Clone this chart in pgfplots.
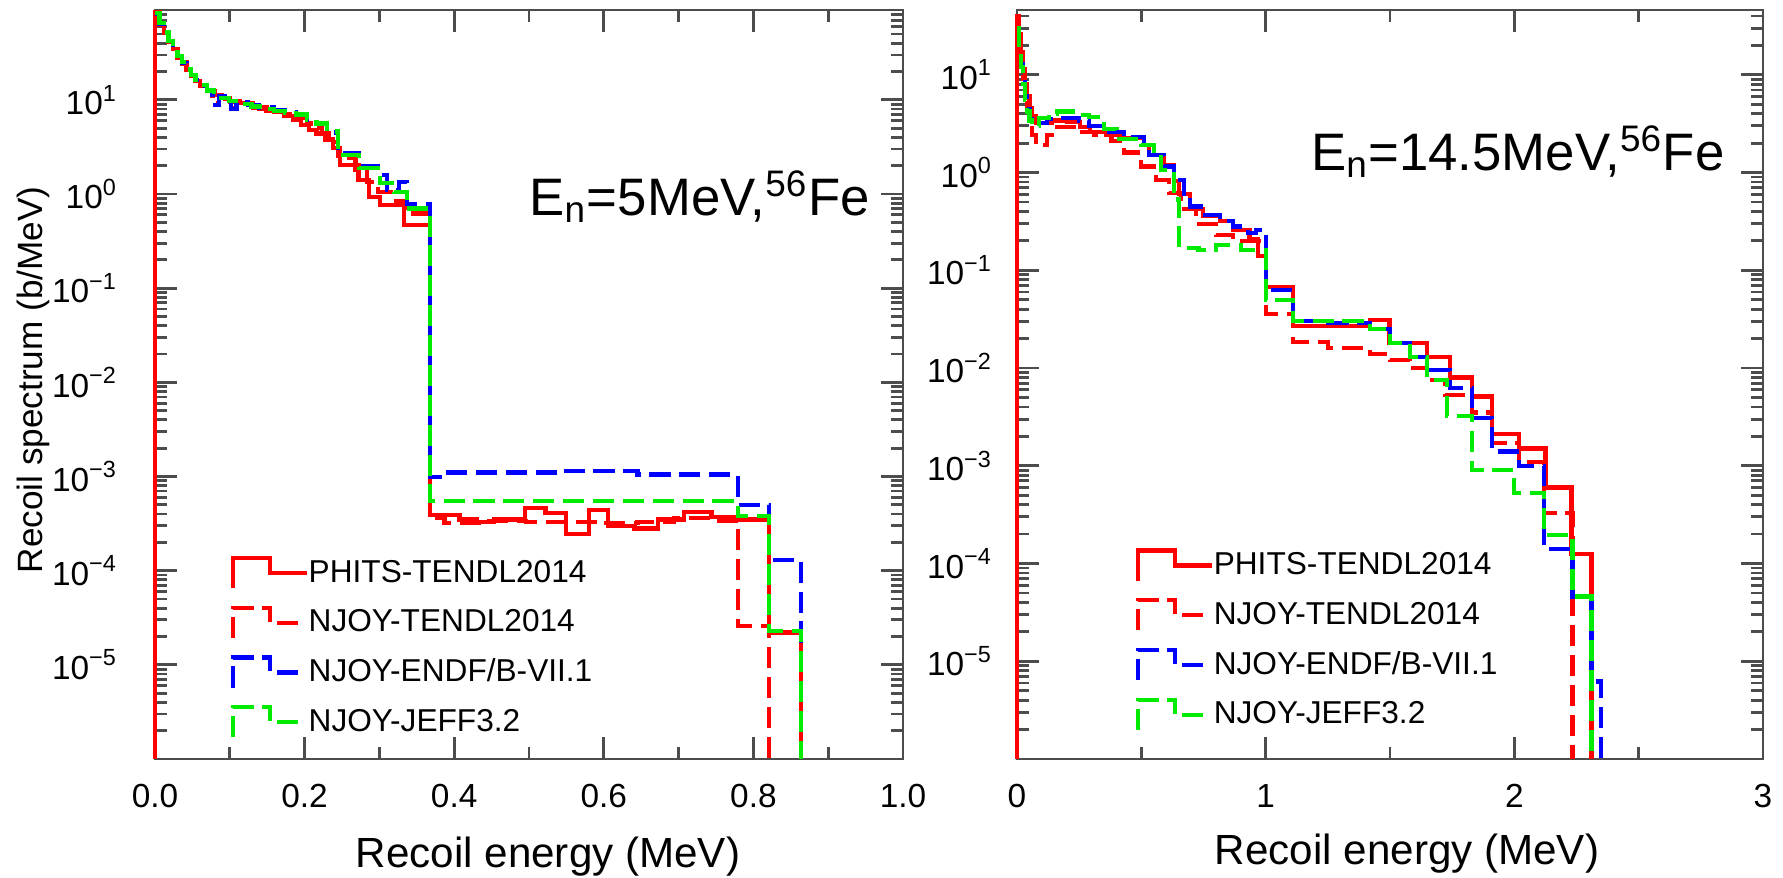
\documentclass[border=0pt]{standalone}
\usepackage{fontspec}
\setmainfont{Liberation Sans}
\usepackage{pgfplots}
\pgfplotsset{compat=1.18}

\definecolor{nred}{RGB}{255,0,0}
\definecolor{nblue}{RGB}{0,0,255}
\definecolor{ngreen}{RGB}{0,235,0}

\pgfplotsset{
  every axis/.append style={
    scale only axis, ymode=log, ymin=1e-6,
    clip=false, tick align=inside, tick pos=both,
    major tick length=0.22cm, minor tick length=0.12cm,
    every tick/.style={black!70, line width=0.8pt},
    axis line style={black!70, line width=0.8pt},
    ytick={1e-6,1e-5,1e-4,1e-3,1e-2,1e-1,1,10,100},
    minor ytick={2e-6,3e-6,4e-6,5e-6,6e-6,7e-6,8e-6,9e-6,
      2e-5,3e-5,4e-5,5e-5,6e-5,7e-5,8e-5,9e-5,
      2e-4,3e-4,4e-4,5e-4,6e-4,7e-4,8e-4,9e-4,
      2e-3,3e-3,4e-3,5e-3,6e-3,7e-3,8e-3,9e-3,
      2e-2,3e-2,4e-2,5e-2,6e-2,7e-2,8e-2,9e-2,
      0.2,0.3,0.4,0.5,0.6,0.7,0.8,0.9,
      2,3,4,5,6,7,8,9,20,30,40,50,60,70,80},
    yticklabel={\pgfmathtruncatemacro\ee{round(\tick/ln(10))}%
      \ifnum\ee<-5 \else\ifnum\ee>1 \else 10\textsuperscript{\ifnum\ee<0 −\number-\ee\else\ee\fi}\fi\fi},
    ticklabel style={font=\fontsize{9.5}{11}\selectfont},
    xticklabel style={yshift=-0.13cm},
    /pgf/number format/assume math mode=true,
    legend cell align=left,
    legend style={draw=none, fill=none, anchor=north west, inner sep=0pt,
      font=\fontsize{9}{11}\selectfont, row sep=0.155cm,
      nodes={inner sep=0pt, text height=0.24cm, text depth=0.06cm},
      /tikz/every even column/.append style={column sep=0.23cm}},
  },
  legend image code/.code={
    \draw[#1] (0cm,-0.15cm) -- (0cm,0.15cm) -- (0.37cm,0.15cm) -- (0.37cm,0cm) -- (0.74cm,0cm);
  },
}
\tikzset{
  phits/.style={nred, line width=1.2pt},
  njt/.style={nred, line width=1.2pt, dash pattern=on 6pt off 2.5pt},
  nje/.style={nblue, line width=1.2pt, dash pattern=on 6pt off 2.5pt},
  njj/.style={ngreen, line width=1.2pt, dash pattern=on 6pt off 2.5pt},
}

\begin{document}
\begin{tikzpicture}
\useasboundingbox (0,0) rectangle (17.83,8.78);

% left panel: En = 5 MeV
\begin{axis}[at={(1.55cm,1.19cm)}, anchor=south west, width=7.48cm, height=7.49cm,
  xmin=0, xmax=1, ymax=90,
  xtick={0,0.2,0.4,0.6,0.8,1}, xticklabels={0.0,0.2,0.4,0.6,0.8,1.0},
  minor x tick num=1,
  yticklabel style={xshift=-0.25cm},
  legend style={at={(0.10,0.272)}}]
\addplot[phits, const plot] coordinates {
  (0,1e-6)(0,85)(0.006,66)(0.012,52)(0.018,42)(0.024,35)(0.030,29)(0.036,25)
  (0.042,21)(0.048,18)(0.054,16)(0.060,14)(0.070,12.5)(0.080,11.3)(0.090,10.5)
  (0.100,9.6)(0.114,9.2)(0.131,8.3)(0.149,7.6)(0.172,6.7)(0.184,6.2)(0.195,5.4)
  (0.206,4.8)(0.216,4.4)(0.228,3.8)(0.238,3.1)(0.247,2.05)(0.272,1.42)(0.286,0.93)
  (0.301,0.76)(0.333,0.47)(0.368,3.9e-4)(0.407,3.5e-4)(0.430,3.3e-4)(0.453,3.5e-4)
  (0.495,4.6e-4)(0.522,4.1e-4)(0.549,2.45e-4)(0.580,4.4e-4)(0.606,3.0e-4)
  (0.641,2.8e-4)(0.672,3.5e-4)(0.707,4.2e-4)(0.744,3.7e-4)(0.779,3.5e-4)
  (0.821,2.2e-5)(0.864,2.2e-5)(0.864,1e-6)};
\addplot[njt, const plot] coordinates {
  (0,80)(0.006,63)(0.012,50)(0.018,41)(0.024,34)(0.030,28)(0.036,24)(0.042,20.5)
  (0.048,18)(0.054,16)(0.060,14)(0.070,12.3)(0.077,9.2)(0.086,10.8)(0.094,10.2)
  (0.102,8.2)(0.109,9.3)(0.124,8.8)(0.139,8.1)(0.159,7.5)(0.174,7.0)(0.188,6.4)
  (0.203,5.6)(0.213,5.0)(0.223,4.4)(0.233,3.6)(0.245,2.4)(0.268,1.8)(0.283,1.35)
  (0.298,1.05)(0.316,0.85)(0.335,0.62)(0.368,3.6e-4)(0.387,3.2e-4)(0.446,3.4e-4)
  (0.496,3.3e-4)(0.595,3.2e-4)(0.645,3.3e-4)(0.694,3.6e-4)(0.744,3.4e-4)
  (0.779,2.6e-5)(0.821,2.6e-5)(0.821,1e-6)};
\addplot[nje, const plot] coordinates {
  (0,82)(0.006,64)(0.012,51)(0.018,42)(0.024,35)(0.030,29)(0.036,24.5)(0.042,21)
  (0.048,18.5)(0.054,16.2)(0.060,14.2)(0.070,12.4)(0.077,8.8)(0.086,10.9)(0.094,10.2)
  (0.102,8.0)(0.109,9.4)(0.124,8.9)(0.139,8.3)(0.159,7.8)(0.174,7.4)(0.188,6.9)
  (0.203,6.2)(0.216,5.7)(0.230,4.5)(0.245,2.7)(0.273,2.0)(0.298,1.6)(0.310,1.1)
  (0.326,1.35)(0.337,0.79)(0.368,9.8e-4)(0.387,1.1e-3)(0.546,1.15e-3)(0.645,1.05e-3)
  (0.779,5.0e-4)(0.821,1.3e-4)(0.864,1.3e-4)(0.864,1e-6)};
\addplot[njj, const plot] coordinates {
  (0,84)(0.006,65)(0.012,52)(0.018,42)(0.024,35)(0.030,29)(0.036,25)(0.042,21)
  (0.048,18.5)(0.054,16.2)(0.060,14.3)(0.070,12.6)(0.079,11.2)(0.089,10.4)(0.099,9.8)
  (0.114,9.1)(0.129,8.5)(0.144,8.0)(0.159,7.6)(0.174,7.3)(0.188,7.0)(0.203,6.2)
  (0.216,5.6)(0.230,4.6)(0.245,2.6)(0.273,1.9)(0.301,1.3)(0.320,1.05)(0.337,0.70)
  (0.368,5.5e-4)(0.779,3.8e-4)(0.821,2.3e-5)(0.864,2.3e-5)(0.864,1e-6)};
\node[anchor=base east, font=\fontsize{15}{18}\selectfont] at (rel axis cs:0.972,0.726)
  {E\textsubscript{n}=5MeV,\textsuperscript{56}Fe};
\legend{PHITS-TENDL2014, NJOY-TENDL2014, NJOY-ENDF/B-VII.1, NJOY-JEFF3.2}
\end{axis}

% right panel: En = 14.5 MeV
\begin{axis}[at={(10.17cm,1.19cm)}, anchor=south west, width=7.46cm, height=7.49cm,
  xmin=0, xmax=3, ymax=46,
  xtick={0,1,2,3}, xticklabels={0,1,2,3},
  minor x tick num=1,
  yticklabel style={xshift=-0.12cm},
  legend style={at={(0.158,0.282)}}]
\addplot[phits, const plot] coordinates {
  (0,1e-6)(0,40)(0.008,26)(0.016,17)(0.024,11.5)(0.032,8)(0.040,6)(0.050,4.6)
  (0.060,3.8)(0.075,3.2)(0.095,3.2)(0.14,3.4)(0.20,3.3)(0.253,2.9)(0.293,2.6)
  (0.36,2.4)(0.43,2.25)(0.51,1.9)(0.53,1.5)(0.59,1.2)(0.63,0.82)(0.65,0.6)
  (0.695,0.42)(0.748,0.36)(0.815,0.32)(0.87,0.26)(0.935,0.21)(0.97,0.14)
  (1.0,0.068)(1.109,0.027)(1.418,0.031)(1.498,0.018)(1.65,0.013)(1.74,0.008)
  (1.83,0.0051)(1.91,0.0021)(2.02,0.0015)(2.125,6.0e-4)(2.23,1.25e-4)
  (2.31,1.25e-4)(2.31,1e-6)};
\addplot[njt, const plot] coordinates {
  (0,35)(0.008,22)(0.016,14)(0.024,9)(0.032,6)(0.040,4.3)(0.050,3.2)(0.060,2.4)
  (0.075,1.9)(0.12,2.4)(0.16,2.9)(0.25,2.6)(0.31,2.4)(0.38,2.1)(0.43,1.6)
  (0.50,1.15)(0.56,0.84)(0.61,0.62)(0.66,0.42)(0.72,0.30)(0.80,0.23)(0.87,0.20)
  (1.0,0.036)(1.109,0.0185)(1.25,0.016)(1.418,0.014)(1.50,0.012)(1.58,0.010)
  (1.65,0.0076)(1.72,0.0053)(1.83,0.0035)(1.91,0.0017)(2.02,0.0011)(2.12,3.3e-4)
  (2.234,3.3e-4)(2.234,1e-6)};
\addplot[nje, const plot] coordinates {
  (0,30)(0.008,20)(0.016,13)(0.024,9)(0.032,6)(0.040,4.5)(0.050,3.5)(0.060,3.0)
  (0.090,3.2)(0.12,3.5)(0.16,3.6)(0.25,3.4)(0.29,3.0)(0.35,2.6)(0.43,2.3)(0.51,1.9)
  (0.53,1.5)(0.59,1.15)(0.63,0.84)(0.67,0.55)(0.695,0.45)(0.748,0.37)(0.815,0.32)
  (0.87,0.28)(0.93,0.24)(0.96,0.26)(1.0,0.063)(1.109,0.030)(1.25,0.029)(1.418,0.025)
  (1.50,0.018)(1.58,0.013)(1.65,0.0095)(1.74,0.0063)(1.83,0.0031)(1.91,0.0014)
  (2.02,0.0010)(2.12,1.4e-4)(2.234,4.6e-5)(2.31,6.2e-6)(2.347,6.2e-6)(2.347,1e-6)};
\addplot[njj, const plot] coordinates {
  (0,30)(0.008,19)(0.016,12)(0.024,8)(0.032,5.5)(0.040,4.2)(0.050,3.4)(0.060,3.0)
  (0.090,3.6)(0.13,4.0)(0.16,4.2)(0.25,3.9)(0.29,3.7)(0.35,2.8)(0.40,2.2)(0.50,1.9)
  (0.55,1.45)(0.58,1.07)(0.63,0.53)(0.65,0.17)(0.73,0.16)(0.80,0.18)(0.90,0.16)
  (1.0,0.05)(1.109,0.030)(1.418,0.025)(1.50,0.018)(1.58,0.013)(1.65,0.0076)
  (1.73,0.0032)(1.83,9e-4)(2.0,5.3e-4)(2.12,1.95e-4)(2.234,4.6e-5)(2.31,4.6e-5)
  (2.31,1e-6)};
\node[anchor=base east, font=\fontsize{15}{18}\selectfont] at (rel axis cs:0.965,0.786)
  {E\textsubscript{n}=14.5MeV,\textsuperscript{56}Fe};
\legend{PHITS-TENDL2014, NJOY-TENDL2014, NJOY-ENDF/B-VII.1, NJOY-JEFF3.2}
\end{axis}

% axis titles
\node[rotate=90, font=\fontsize{10}{12}\selectfont] at (0.33,4.98) {Recoil spectrum (b/MeV)};
\node[anchor=base, font=\fontsize{12}{14}\selectfont] at (5.48,0.10) {Recoil energy (MeV)};
\node[anchor=base, font=\fontsize{12}{14}\selectfont] at (14.07,0.13) {Recoil energy (MeV)};
\end{tikzpicture}
\end{document}
